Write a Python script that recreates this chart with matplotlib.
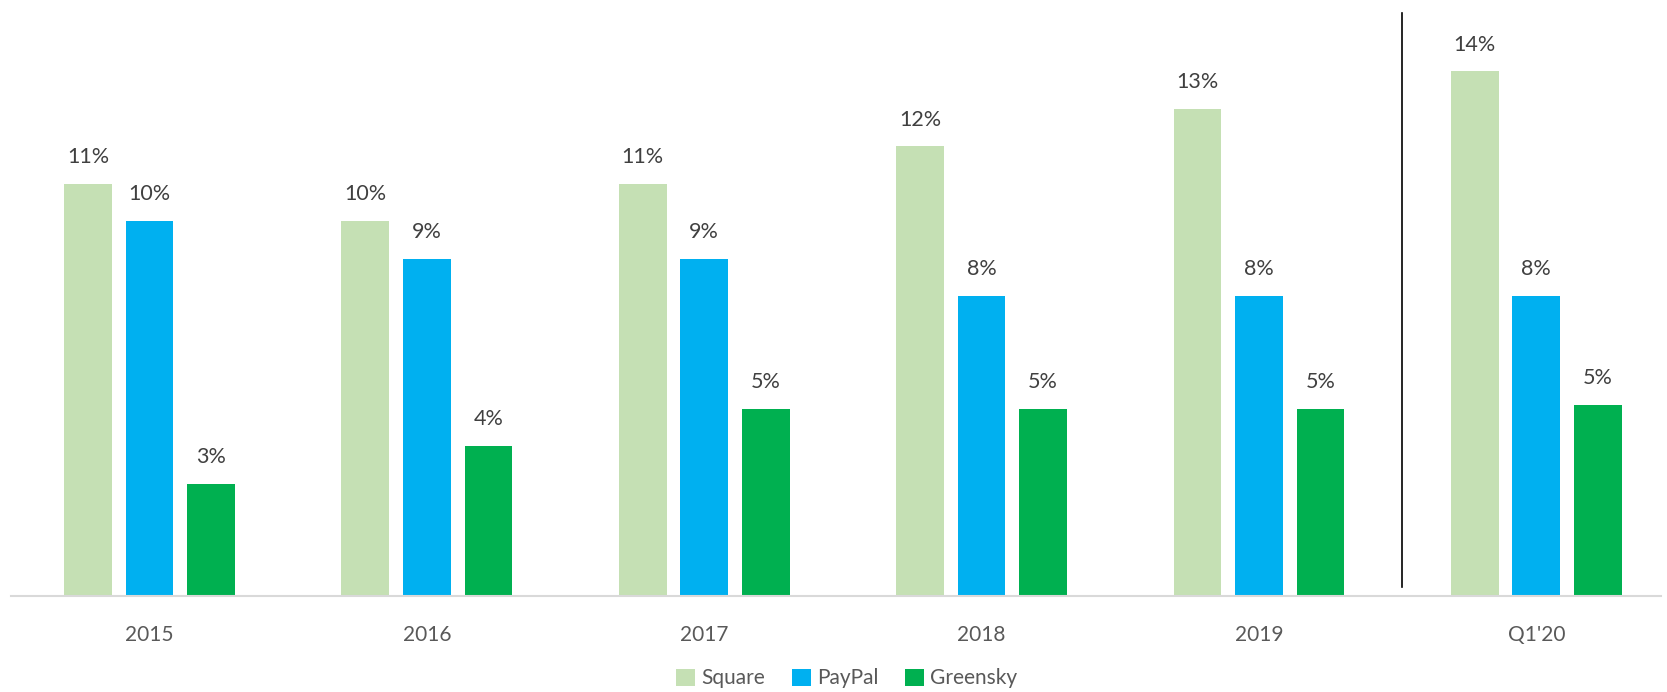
import numpy as np
import matplotlib.pyplot as plt

plt.rcParams['font.family'] = ['Lato', 'DejaVu Sans']

periods = ['2015', '2016', '2017', '2018', '2019', "Q1'20"]
square = [11, 10, 11, 12, 13, 14]
paypal = [10, 9, 9, 8, 8, 8]
greensky = [3, 4, 5, 5, 5, 5.1]

series = [('Square', square, '#C5E0B4'),
          ('PayPal', paypal, '#00B0F0'),
          ('Greensky', greensky, '#00B050')]

fig = plt.figure(figsize=(16.67, 6.92), dpi=100)
ax = fig.add_axes([0.0065, 0.1387, 0.99, 0.8613])

x = np.arange(len(periods))
width = 0.172
step = 0.222

for i, (name, vals, col) in enumerate(series):
    pos = x + (i - 1) * step
    ax.bar(pos, vals, width, color=col, label=name, zorder=2)
    for p, v in zip(pos, vals):
        ax.annotate('%d%%' % round(v), (p, v), xytext=(0, 12), textcoords='offset points',
                    ha='center', va='bottom', fontsize=15.5, color='#404040')

# separator between annual and quarterly data
ax.plot([4.516, 4.516], [0.25, 15.56], color='black', lw=1.2, zorder=3)

ax.set_xlim(-0.5, 5.45)
ax.set_ylim(0, 15.9)
ax.set_xticks(x)
ax.set_xticklabels(periods, fontsize=15, color='#595959')
ax.tick_params(axis='x', length=0, pad=21)
ax.set_yticks([])
for s in ['top', 'right', 'left']:
    ax.spines[s].set_visible(False)
ax.spines['bottom'].set_color('#D9D9D9')
ax.spines['bottom'].set_linewidth(1.5)

fig.legend(loc='lower center', bbox_to_anchor=(0.508, -0.022), ncol=3, frameon=False,
           fontsize=15, handlelength=0.9, handleheight=0.9, handletextpad=0.3,
           columnspacing=1.3, labelcolor='#595959')

fig.savefig('out.png', dpi=100)
